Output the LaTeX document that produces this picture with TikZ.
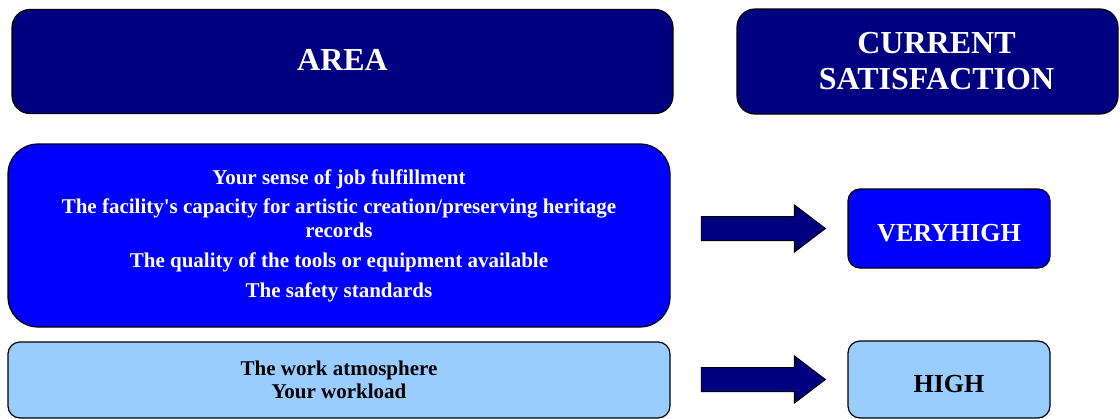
\documentclass[tikz,border=0pt]{standalone}
\usepackage{fontspec}
\setmainfont{Liberation Serif}
\definecolor{navy}{RGB}{0, 0, 128}
\definecolor{royal}{RGB}{0, 0, 255}
\definecolor{sky}{RGB}{153, 204, 255}

\begin{document}
\begin{tikzpicture}[x=1pt, y=-1pt,
        box/.style={draw=black, line width=1.2pt, inner sep=0pt, align=center},
        title/.style={text=white, inner sep=0pt, align=center, font=\bfseries\fontsize{32}{36}\selectfont},
        head/.style={box, fill=navy, rounded corners=18pt},
        group/.style={box, minimum width=662pt, font=\bfseries\fontsize{21}{24}\selectfont},
        level/.style={box, minimum width=202pt, rounded corners=12pt, text height=25pt, text depth=0pt,
                      font=\bfseries\fontsize{26}{30}\selectfont},
        pointer/.style={draw=black, fill=navy, line width=1pt}]
    \useasboundingbox (0,0) rectangle (1120,418);
    \node[head,  minimum width=661pt, minimum height=104pt]                          (area)     at (342.5,  61.5) {};
    \node[head,  minimum width=381pt, minimum height=105pt]                          (current)  at (927.5,  61.5) {};
    \node[title]                                                                     (areaText) at ([yshift=1.5pt]area.center)  {AREA};
    \node[title]                                                                     (curText)  at ([xshift=9pt]current.center) {CURRENT\\SATISFACTION};
    \node[group, fill=royal, text=white, rounded corners=30pt, minimum height=183pt] (groupA)   at (339.0, 235.5)
        {Your sense of job fulfillment\\[5pt]
         The facility\textquotesingle s capacity for artistic creation/preserving heritage\\
         records\\[6pt]
         The quality of the tools or equipment available\\[6pt]
         The safety standards};
    \node[group, fill=sky, rounded corners=12pt, minimum height=76pt]               (groupB)   at (339.0, 380.0) {The work atmosphere\\[-1pt]Your workload};
    \node[level, fill=royal, text=white, minimum height=79pt]                        (veryhigh) at (949.0, 228.5) {VERYHIGH};
    \node[level, fill=sky, minimum height=77pt]                                      (high)     at (949.0, 379.5) {HIGH};
    \foreach \lvl in {veryhigh, high}
        \filldraw[pointer] ([xshift=-22pt]\lvl.west) -- ++(-31,-23.5) -- ++(0,11.5) -- ++(-93,0)
                           -- ++(0,24) -- ++(93,0) -- ++(0,11.5) -- cycle;
\end{tikzpicture}
\end{document}
